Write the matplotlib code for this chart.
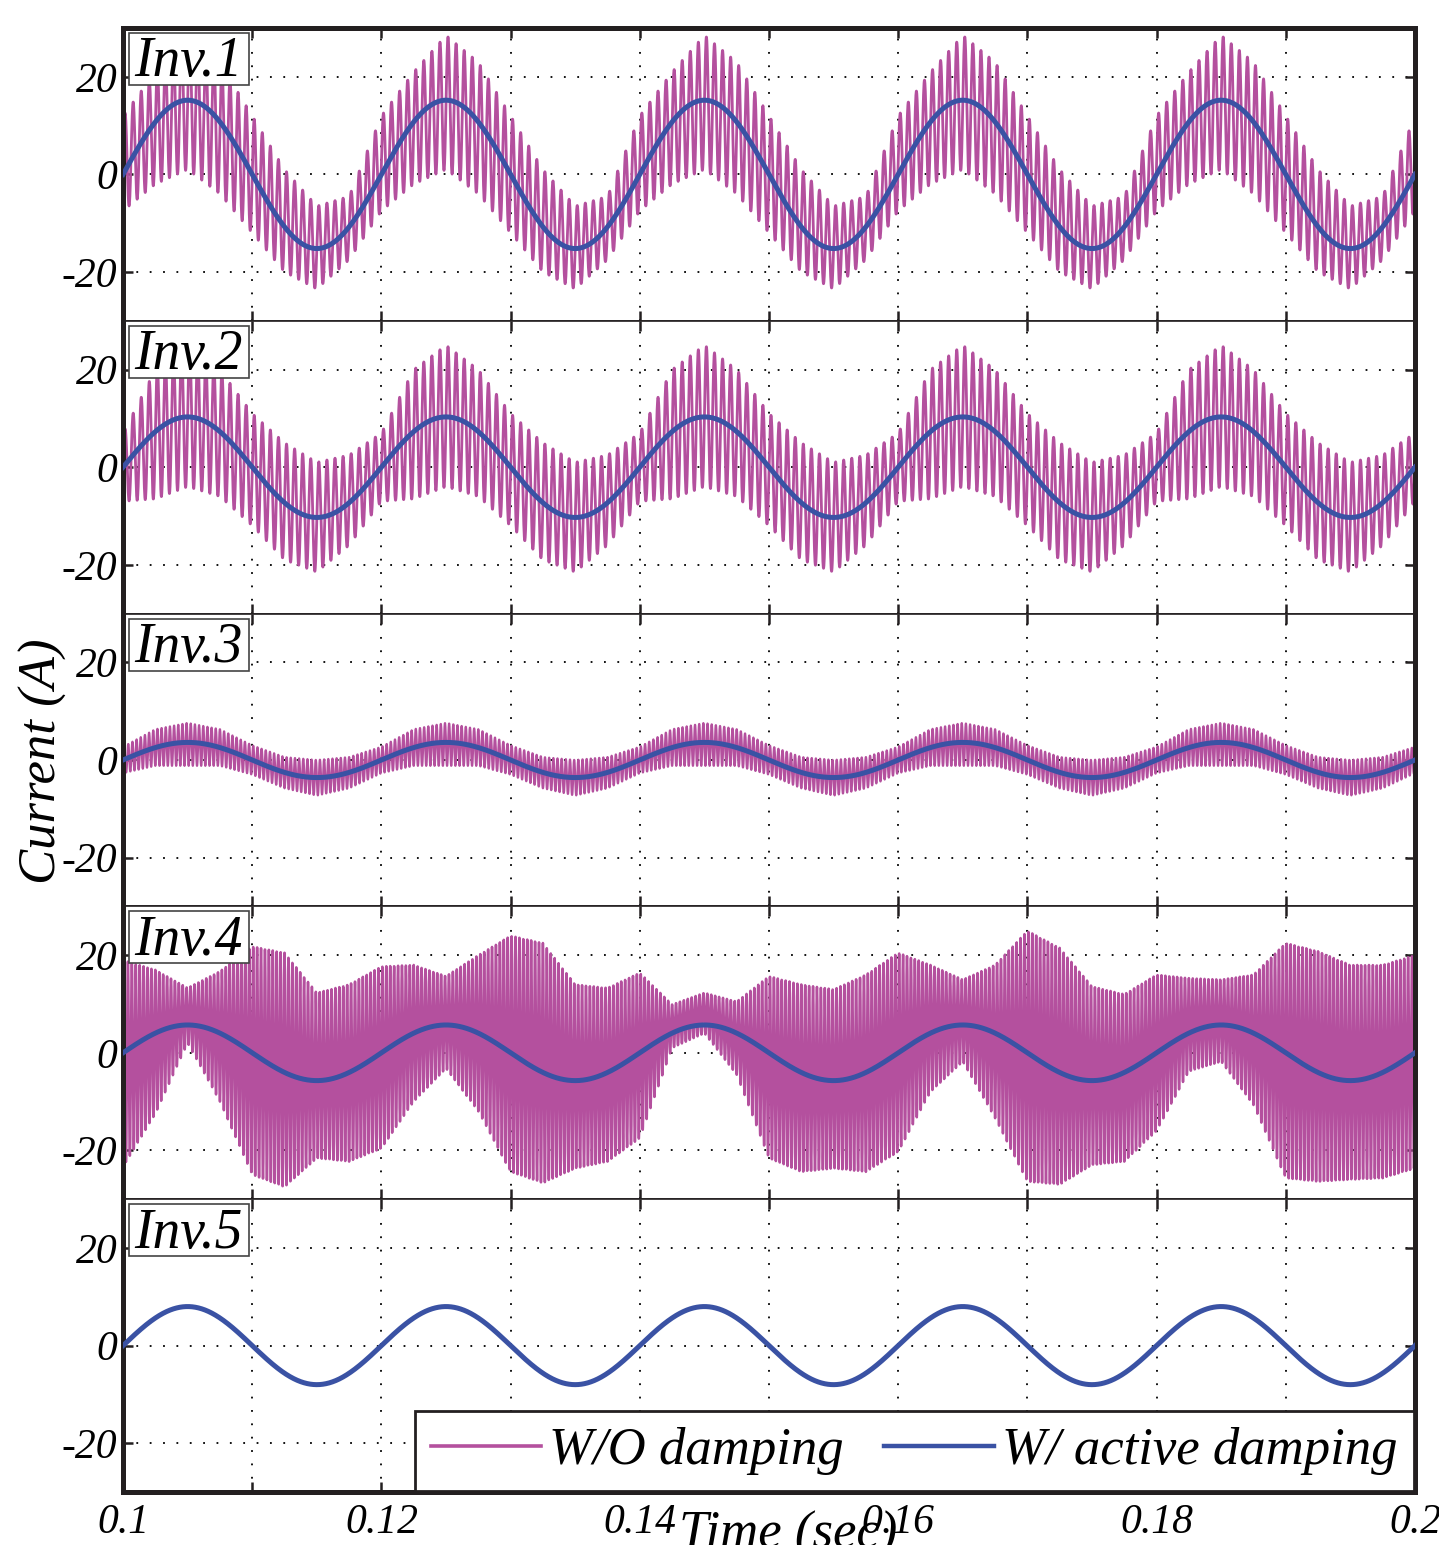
import numpy as np
import matplotlib
matplotlib.use('Agg')
import matplotlib.pyplot as plt
from matplotlib.lines import Line2D
from matplotlib.patches import Rectangle

plt.rcParams['font.family'] = ['Liberation Serif', 'DejaVu Serif']
plt.rcParams['font.style'] = 'italic'
plt.rcParams['axes.unicode_minus'] = False

# ---- data ----
names = ['Inv.1', 'Inv.2', 'Inv.3', 'Inv.4', 'Inv.5']
grid_freq = 50.0                       # Hz
blue_amp = [15.2, 10.3, 3.6, 5.7, 8.0]  # W/ active damping, peak (A)

# ripple envelope of the W/O damping current, sampled every 2.5 ms
env_t = np.linspace(0.1, 0.2, 41)
# Inv.1-3 repeat every grid cycle (8 samples per 20 ms)
inv1_upper_cycle = [12, 21, 28.5, 23, 12, 1, -6.5, -4.5]
inv1_lower_cycle = [-7.5, -2, 1, -4, -12, -20, -23.5, -17.5]
inv2_upper_cycle = [7, 20, 25, 20, 11, 5, 1, 2.5]
inv2_lower_cycle = [-7, -6.5, -4, -6, -12, -19, -21.5, -16]
inv3_upper_cycle = [2.7, 6.3, 7.6, 6.3, 3, 0.6, 0, 0.6]
inv3_lower_cycle = [-2.7, -1.2, -1.2, -1.2, -3, -5.8, -7.3, -5.8]
# Inv.4 beats, read over the whole window
inv4_upper = [19, 17, 13.3, 16.7, 21.8, 20.5, 12.3, 14, 17.7, 18,
              15.7, 20, 24, 22.5, 14, 13.3, 16.4, 9.9, 12.3, 10.5,
              15.7, 14, 13, 16, 20.5, 18, 15, 18, 25, 21.5,
              13.6, 12, 16, 15.3, 15, 16, 22.5, 20.8, 18, 18, 20]
inv4_lower = [-23.4, -12.5, 2, -10, -25, -27.5, -21.6, -22.3, -19.6, -10,
              -3.2, -12, -24.4, -26.7, -23.7, -22.3, -17.5, 1, 4, -4.5,
              -21.6, -24.4, -23.7, -24.4, -20.3, -8, -1.8, -13.4, -26.4, -27,
              -23, -22.3, -16, -3.8, -1.8, -10.7, -25.7, -26.4, -26, -25.7, -23.7]
ripple_freq = [1600, 1600, 3100, 3300]   # Hz, resonance seen in the trace
ripple_lw = [2.0, 2.0, 1.6, 1.8]

x_tick_labels = ['0.1', '', '0.12', '', '0.14', '', '0.16', '', '0.18', '', '0.2']
y_ticks = [-20, 0, 20]
legend_labels = ['W/O damping', 'W/ active damping']

MAG = '#B4509E'
BLUE = '#3A52A4'
EDGE = '#231F20'


def cycle_to_window(c):
    return np.append(np.tile(c, 5), c[0])


uppers = [cycle_to_window(inv1_upper_cycle), cycle_to_window(inv2_upper_cycle),
          cycle_to_window(inv3_upper_cycle), np.array(inv4_upper)]
lowers = [cycle_to_window(inv1_lower_cycle), cycle_to_window(inv2_lower_cycle),
          cycle_to_window(inv3_lower_cycle), np.array(inv4_lower)]

t = np.linspace(0.1, 0.2, 10001)

fig, axes = plt.subplots(5, 1, figsize=(14.39, 15.45), dpi=100, sharex=True)
fig.subplots_adjust(left=0.0855, right=0.9833, top=0.9819, bottom=0.0343, hspace=0)

for i, ax in enumerate(axes):
    blue = blue_amp[i] * np.sin(2 * np.pi * grid_freq * (t - 0.1))
    if i < 4:
        up = np.interp(t, env_t, uppers[i])
        lo = np.interp(t, env_t, lowers[i])
        mag = (up + lo) / 2 + (up - lo) / 2 * np.sin(2 * np.pi * ripple_freq[i] * t)
        ax.plot(t, mag, color=MAG, lw=ripple_lw[i], zorder=2)
    ax.plot(t, blue, color=BLUE, lw=3.6, zorder=3)

    ax.set_xlim(0.1, 0.2)
    ax.set_ylim(-30, 30)
    ax.set_xticks(np.linspace(0.1, 0.2, 11))
    ax.set_yticks(y_ticks)
    ax.set_yticklabels([str(v) for v in y_ticks])
    ax.grid(True, color='k', linestyle=(0, (1, 6.4)), linewidth=1.3)
    ax.tick_params(direction='in', length=7, width=1.8, top=True, right=True,
                   labelsize=30, pad=4, colors=EDGE, labelcolor='k')
    for side in ['left', 'right']:
        ax.spines[side].set_linewidth(3.6)
    ax.spines['top'].set_linewidth(3.6 if i == 0 else 1.2)
    ax.spines['bottom'].set_linewidth(3.6 if i == 4 else 1.2)
    for s in ax.spines.values():
        s.set_color(EDGE)

    txt = ax.text(0.009, 0.835, names[i], transform=ax.transAxes, ha='left',
                  va='baseline', fontsize=40, zorder=6)
    ax._inv_text = txt

axes[-1].set_xticklabels(x_tick_labels)
axes[-1].tick_params(axis='x', pad=8)

handles = [Line2D([], [], color=MAG, lw=2.6), Line2D([], [], color=BLUE, lw=3.2)]
leg = axes[-1].legend(handles, legend_labels, ncol=2, loc='lower right',
                      bbox_to_anchor=(0.999, 0.004), fontsize=38, frameon=True,
                      fancybox=False, framealpha=1, edgecolor=EDGE,
                      handlelength=2.1, handletextpad=0.15, columnspacing=0.75,
                      borderpad=0.3, borderaxespad=0.0)
leg.get_frame().set_linewidth(2.0)
leg.set_zorder(7)

fig.text(0.030, 0.507, 'Current (A)', rotation=90, ha='center', va='center', fontsize=38)
fig.text(0.548, 0.022, 'Time (sec)', ha='center', va='top', fontsize=38)

# white boxes behind the Inv labels, sized to the text
fig.canvas.draw()
for ax in axes:
    bb = ax._inv_text.get_window_extent().transformed(ax.transAxes.inverted())
    x0 = 0.0046
    y1 = 0.983
    y0 = 0.805
    ax.add_patch(Rectangle((x0, y0), bb.x1 + 0.005 - x0, y1 - y0, transform=ax.transAxes,
                           facecolor='white', edgecolor='#444', lw=1.2, zorder=5))

fig.savefig('out.png', dpi=100)
